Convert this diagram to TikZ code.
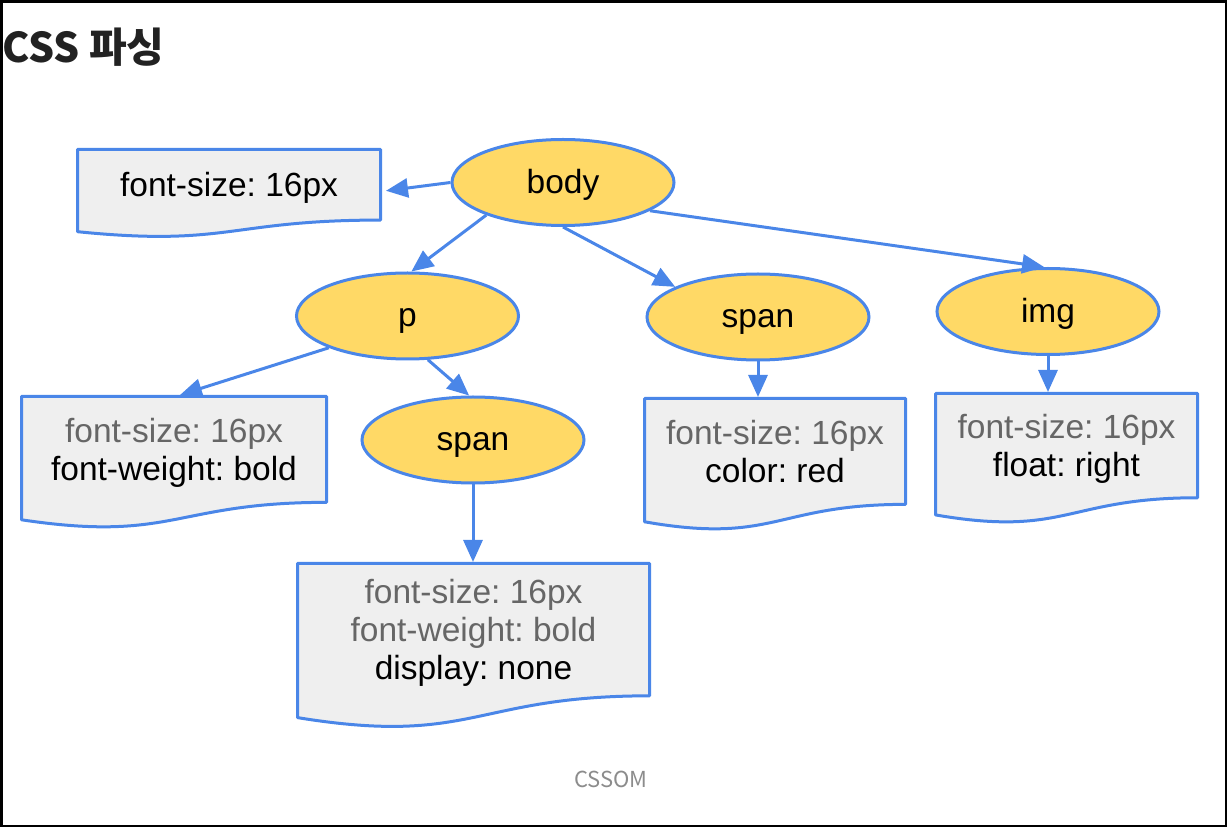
\documentclass[tikz,border=0pt]{standalone}
\usepackage{fontspec}
\setmainfont{Liberation Sans}
\newfontfamily\krfont{Noto Sans CJK KR}
\usetikzlibrary{arrows.meta,calc,shapes.geometric}

\definecolor{gblue}{HTML}{4A86E8}
\definecolor{gyellow}{HTML}{FFD966}
\definecolor{gfill}{HTML}{EFEFEF}
\definecolor{ggray}{HTML}{666666}
\definecolor{capgray}{HTML}{8C8C8C}
\definecolor{titleink}{HTML}{222222}

% struts giving every text line the same height and depth
\newcommand\dstrut{\rule[-3pt]{0pt}{18.5pt}}
\newcommand\estrut{\rule[-3pt]{0pt}{17pt}}
\newcommand\gl[1]{\textcolor{ggray}{#1}\dstrut}
\newcommand\bl[1]{#1\dstrut}

\tikzset{
  docline/.style={draw=gblue, fill=gfill, line width=1.5pt, line join=round},
  doctext/.style={align=center, inner sep=0pt, outer sep=0.75pt,
    font=\fontsize{16.75}{19}\selectfont},
  cssnode/.style={ellipse, draw=gblue, fill=gyellow, line width=1.5pt,
    minimum width=111pt, minimum height=43pt, inner sep=0pt,
    font=\fontsize{16.75}{19}\selectfont},
  arr/.style={draw=gblue, line width=1.5pt, -{Triangle[length=11pt,width=9.5pt]}},
}

% document shape: name, centre x, top y, width, full height, text
\newcommand\docnode[6]{%
  \pgfmathsetmacro\dnL{#2-#4/2}%
  \pgfmathsetmacro\dnR{#2+#4/2}%
  \pgfmathsetmacro\dnS{#3+0.802*#5}%
  \pgfmathsetmacro\dnW{#3+0.934*#5}%
  \pgfmathsetmacro\dnC{#3+1.1075*#5}%
  \pgfmathsetmacro\dnM{#3+0.401*#5}%
  \path[docline] (\dnL,#3) -- (\dnR,#3) -- (\dnR,\dnS)
    .. controls (#2,\dnS) and (#2,\dnC) .. (\dnL,\dnW) -- cycle;
  \node[doctext, minimum width={#4*0.5pt}, minimum height={0.401*#5*1pt}]
    (#1) at (#2,\dnM) {#6};
}

\frenchspacing

\begin{document}
\begin{tikzpicture}[x=0.5pt, y=-0.5pt]
  \useasboundingbox (0,0) rectangle (1228,828);
  \draw[black, line width=1.2pt] (1.4,1.4) rectangle (1226.2,826.2);

  \node[anchor=base west, inner sep=0pt, text=titleink,
        font=\krfont\bfseries\fontsize{20.5}{24}\selectfont] (title) at (2,63) {CSS 파싱};

  % property boxes
  \docnode{rootprops}{229}{149.5}{303}{88}{\bl{font-size: 16px}}
  \docnode{pprops}{174}{396.5}{305}{132}{\gl{font-size: 16px}\\\bl{font-weight: bold}}
  \docnode{innerprops}{473.5}{563.5}{352}{165}{\gl{font-size: 16px}\\\gl{font-weight: bold}\\\bl{display: none}}
  \docnode{spanprops}{775}{398.5}{261}{132}{\gl{font-size: 16px}\\\bl{color: red}}
  \docnode{imgprops}{1066.5}{393.5}{262}{130}{\gl{font-size: 16px}\\\bl{float: right}}

  % element nodes
  \node[cssnode] (body) at (563,182.5) {body\estrut};
  \node[cssnode] (p) at (407.5,316) {p\estrut};
  \node[cssnode] (span) at (758,317) {span\estrut};
  \node[cssnode] (img) at (1048,311.5) {img\estrut};
  \node[cssnode] (inner) at (473,440) {span\estrut};

  % connectors
  \draw[arr] (body.west) -- ($(rootprops.east)+(4,6)$);
  \draw[arr] (body.203) -- (p.85);
  \draw[arr] (body.south) -- (span.160);
  \draw[arr] (body.-18) -- (img.95);
  \draw[arr] (p.202) -- ($(pprops.north)+(6,0)$);
  \draw[arr] (p.295) -- (inner.95);
  \draw[arr] (inner.south) -- (inner.south |- innerprops.north);
  \draw[arr] (span.south) -- (span.south |- spanprops.north);
  \draw[arr] (img.south) -- (img.south |- imgprops.north);

  \node[anchor=base, inner sep=0pt, text=capgray,
        font=\krfont\fontsize{11}{13}\selectfont] (caption) at (611,788) {CSSOM};
\end{tikzpicture}
\end{document}
